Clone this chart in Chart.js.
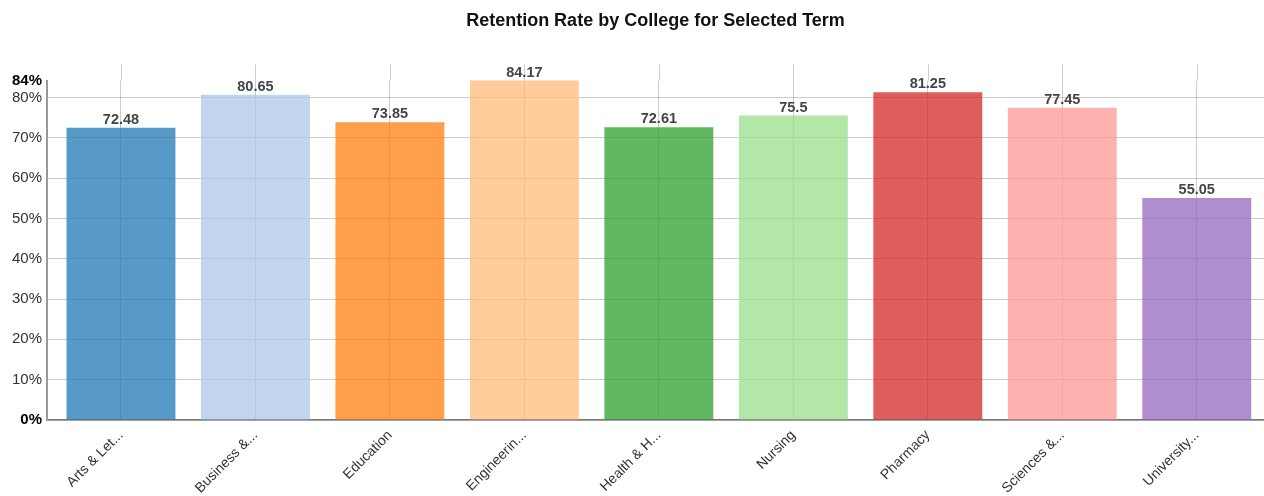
<!DOCTYPE html>
<html>
<head>
<meta charset="utf-8">
<script src="https://cdn.jsdelivr.net/npm/chart.js@4.4.1/dist/chart.umd.min.js"></script>
<style>
  html, body { margin: 0; padding: 0; background: #fff; }
  #wrap { width: 1264px; height: 496px; }
</style>
</head>
<body>
<div id="wrap"><canvas id="retentionChart"></canvas></div>
<script>
const colleges = [
  "Arts & Let...",
  "Business &...",
  "Education",
  "Engineerin...",
  "Health & H...",
  "Nursing",
  "Pharmacy",
  "Sciences &...",
  "University...",
];
const retention = [72.48, 80.65, 73.85, 84.17, 72.61, 75.5, 81.25, 77.45, 55.05];
const barColors = [
  "#1f77b4",
  "#aec7e8",
  "#ff7f0e",
  "#ffbb78",
  "#2ca02c",
  "#98df8a",
  "#d62728",
  "#ff9896",
  "#9467bd",
];
const yTicks = [0, 10, 20, 30, 40, 50, 60, 70, 80];
const yMax = Math.max(...retention);

const fontFamily = 'Helvetica, Arial, "Liberation Sans", sans-serif';

function fade(hex, a) {
  const n = parseInt(hex.slice(1), 16);
  return `rgba(${(n >> 16) & 255}, ${(n >> 8) & 255}, ${n & 255}, ${a})`;
}

// bar values written above each bar
const valueLabels = {
  id: "valueLabels",
  afterDatasetsDraw(chart) {
    const ctx = chart.ctx;
    const meta = chart.getDatasetMeta(0);
    ctx.save();
    ctx.font = "bold 14.5px " + fontFamily;
    ctx.fillStyle = "#444";
    ctx.textAlign = "center";
    ctx.textBaseline = "alphabetic";
    meta.data.forEach((bar, i) => {
      ctx.fillText(String(retention[i]), bar.x, bar.y - 4);
    });
    ctx.restore();
  },
};

// vertical grid lines run a bit above the plot top
const gridOverhang = {
  id: "gridOverhang",
  beforeDatasetsDraw(chart) {
    const ctx = chart.ctx;
    const xs = chart.scales.x;
    const top = chart.chartArea.top;
    ctx.save();
    ctx.strokeStyle = "rgba(0,0,0,0.2)";
    ctx.lineWidth = 1;
    xs.ticks.forEach((t) => {
      const px = Math.round(xs.getPixelForValue(t.value)) + 0.5;
      ctx.beginPath();
      ctx.moveTo(px, top - 16);
      ctx.lineTo(px, top);
      ctx.stroke();
    });
    ctx.restore();
  },
};

const ctx = document.getElementById("retentionChart").getContext("2d");
const retentionChart = new Chart(ctx, {
  type: "bar",
  data: {
    datasets: [
      {
        label: "Retention Rate",
        data: retention.map((v, i) => ({ x: i, y: v })),
        backgroundColor: barColors.map((c) => fade(c, 0.75)),
        borderWidth: 0,
        barPercentage: 0.81,
        categoryPercentage: 1,
        clip: false,
      },
    ],
  },
  options: {
    responsive: true,
    maintainAspectRatio: false,
    animation: false,
    layout: { padding: 0 },
    plugins: {
      legend: { display: false },
      tooltip: { enabled: false },
      title: {
        display: true,
        text: "Retention Rate by College for Selected Term",
        fullSize: false,
        color: "#111",
        font: { family: fontFamily, size: 18, weight: "bold" },
        padding: { top: 10, bottom: 49 },
      },
    },
    scales: {
      x: {
        type: "linear",
        offset: false,
        min: -0.55,
        max: colleges.length - 0.5,
        afterBuildTicks(scale) {
          scale.ticks = colleges.map((_, i) => ({ value: i }));
        },
        afterFit(scale) {
          scale.height = 76;
        },
        grid: {
          offset: false,
          color: "rgba(0,0,0,0.2)",
          drawTicks: false,
        },
        border: { color: "#777", width: 1.5 },
        ticks: {
          minRotation: 45,
          maxRotation: 45,
          autoSkip: false,
          padding: 7,
          color: "#333",
          font: { family: fontFamily, size: 14 },
          callback: (v) => colleges[v],
        },
      },
      y: {
        min: 0,
        max: yMax,
        afterBuildTicks(scale) {
          scale.ticks = yTicks.concat([yMax]).map((v) => ({ value: v }));
        },
        afterFit(scale) {
          scale.width = 47;
        },
        grid: {
          drawTicks: false,
          color: (c) => (c.tick && c.tick.value === yMax ? "rgba(0,0,0,0)" : "rgba(0,0,0,0.2)"),
        },
        border: { color: "#999", width: 2 },
        ticks: {
          padding: 5,
          color: (c) => (c.tick.value === 0 || c.tick.value === yMax ? "#000" : "#333"),
          font: (c) => ({
            family: fontFamily,
            size: 15,
            weight: c.tick && (c.tick.value === 0 || c.tick.value === yMax) ? "bold" : "normal",
          }),
          callback: (v) => Math.round(v) + "%",
        },
      },
    },
  },
  plugins: [gridOverhang, valueLabels],
});
</script>
</body>
</html>
